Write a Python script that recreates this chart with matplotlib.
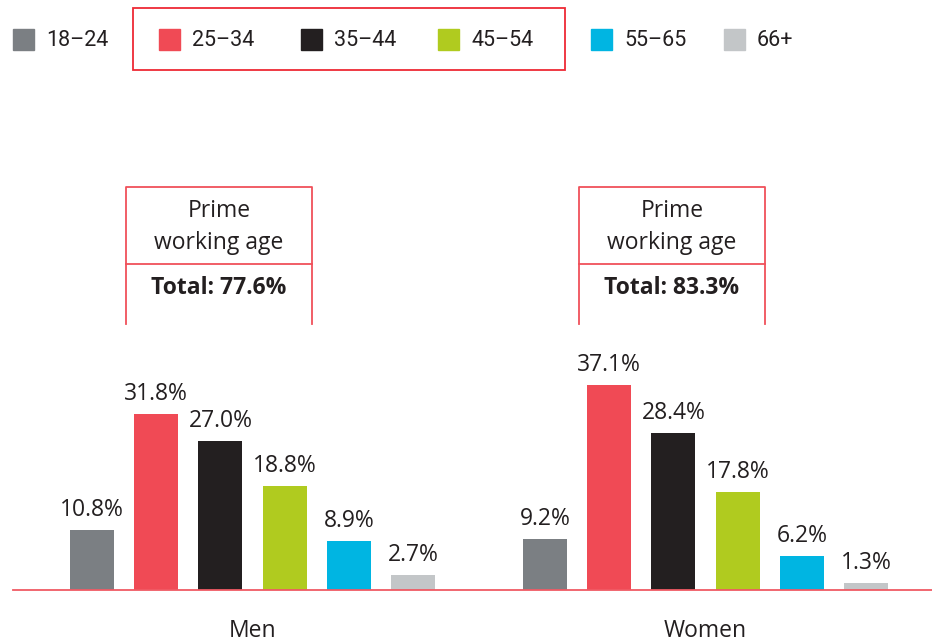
import matplotlib.pyplot as plt
from matplotlib.patches import Rectangle

# data
age_groups = ['18–24', '25–34', '35–44', '45–54', '55–65', '66+']
men = [10.8, 31.8, 27.0, 18.8, 8.9, 2.7]
women = [9.2, 37.1, 28.4, 17.8, 6.2, 1.3]
groups = ['Men', 'Women']
totals = ['Total: 77.6%', 'Total: 83.3%']
colors = ['#7b7f83', '#f04a55', '#231f20', '#b0cb1f', '#00b5e2', '#c3c6c8']

W, H = 932, 643
FONT = 'Open Sans'
FS = 16.5
TXT = '#231f20'
BOX_RED = '#f0505a'

fig = plt.figure(figsize=(W / 100, H / 100), dpi=100)

# bar axes: full width, bottom at the red baseline
base_px = 590
px_per_unit_x = 64.2
px_per_pct = 5.53
ax = fig.add_axes([0, (H - base_px) / H, 1, base_px / H])
ax.set_xlim(-92 / px_per_unit_x, (W - 92) / px_per_unit_x)
ax.set_ylim(0, base_px / px_per_pct)
ax.axis('off')

group_offset = 453 / px_per_unit_x
bar_w = 44 / px_per_unit_x

for g, vals in enumerate([men, women]):
    x0 = g * group_offset
    for i, v in enumerate(vals):
        ax.bar(x0 + i, v, width=bar_w, color=colors[i], zorder=2)
        ax.annotate(f'{v:.1f}%', (x0 + i, v), xytext=(0, 8),
                    textcoords='offset pixels', ha='center', va='bottom',
                    fontsize=FS, family=FONT, color=TXT)
    # group label below the baseline
    ax.annotate(groups[g], (x0 + 2.5, 0), xytext=(0, -41),
                textcoords='offset pixels', ha='center', va='center',
                fontsize=FS, family=FONT, color=TXT, annotation_clip=False)

    # "prime working age" bracket around bars 25-34 .. 45-54
    left = x0 + 1 - bar_w / 2 - 8 / px_per_unit_x
    right = x0 + 3 + bar_w / 2 + 5 / px_per_unit_x
    top = (base_px - 187) / px_per_pct
    mid = (base_px - 264) / px_per_pct
    bottom = (base_px - 324) / px_per_pct
    kw = dict(color=BOX_RED, lw=1.3, zorder=3)
    ax.plot([left, left, right, right], [bottom, top, top, bottom], **kw)
    ax.plot([left, right], [mid, mid], **kw)
    cx = (left + right) / 2
    ax.text(cx, (base_px - 211) / px_per_pct, 'Prime', ha='center', va='center',
            fontsize=FS, family=FONT, color=TXT)
    ax.text(cx, (base_px - 243) / px_per_pct, 'working age', ha='center', va='center',
            fontsize=FS, family=FONT, color=TXT)
    ax.text(cx, (base_px - 288) / px_per_pct, totals[g], ha='center', va='center',
            fontsize=FS, family=FONT, weight='bold', color=TXT)

# red baseline
ax.axhline(0, xmin=13 / W, xmax=1, color='#f05a64', lw=1.3, zorder=3, clip_on=False)

# legend drawn by hand in pixel positions
square_x = [13, 159, 301, 438, 591, 724]
for i, lab in enumerate(age_groups):
    sx = square_x[i]
    fig.patches.append(Rectangle((sx / W, 1 - 50 / H), 21 / W, 21 / H,
                                 transform=fig.transFigure, color=colors[i]))
    fig.text((sx + 33) / W, 1 - 40 / H, lab, ha='left', va='center',
             fontsize=15.5, family='Roboto', color=TXT)
fig.patches.append(Rectangle((133 / W, 1 - 70 / H), (565 - 133) / W, (70 - 8) / H,
                             transform=fig.transFigure, fill=False,
                             edgecolor='#ee2a35', lw=1.3))

fig.savefig('out.png', dpi=100)
